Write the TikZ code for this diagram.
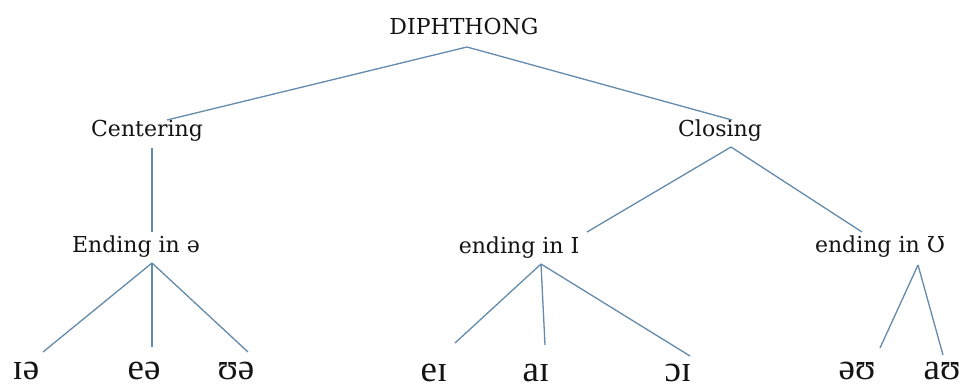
\documentclass[tikz,border=0pt]{standalone}
\usepackage{fontspec}
\setmainfont{DejaVu Serif}
\newfontfamily\ipafont{Liberation Serif}
\usetikzlibrary{calc}
\definecolor{branch}{RGB}{100,138,172}
\definecolor{ink}{RGB}{20,20,20}
\tikzset{
  label/.style={inner sep=0pt, anchor=base, text=ink, font=\fontsize{22}{26}\selectfont},
  sound/.style={inner sep=0pt, anchor=base, text=ink, text depth=0pt, font=\ipafont\fontsize{37}{40}\selectfont},
  branchline/.style={draw=branch, line width=1.3pt},
}
\begin{document}
\begin{tikzpicture}[x=1pt, y=-1pt]
\useasboundingbox[fill=white] (0,0) rectangle (964,385);

% category labels
\node[label] (dip)  at (464,35)  {DIPHTHONG};
\node[label] (cent) at (147,137) {Centering};
\node[label] (clos) at (720,137) {Closing};
\node[label] (endA) at (136,252) {Ending in ə};
\node[label] (endI) at (519,253) {ending in I};
\node[label] (endU) at (880,252) {ending in Ʊ};

% individual diphthongs
\node[sound] (ia) at (26,379)  {ɪə};
\node[sound] (ea) at (144,379) {eə};
\node[sound] (ua) at (236,379) {ʊə};
\node[sound] (ei) at (434,381) {eɪ};
\node[sound] (ai) at (536,381) {aɪ};
\node[sound] (oi) at (678,381) {ɔɪ};
\node[sound] (au1) at (857,379) {əʊ};
\node[sound] (au2) at (942,379) {aʊ};

% branch attachment points
\coordinate (dipB)  at ($(dip.base)+(3,12)$);
\coordinate (centT) at ($(cent.base)+(20,-17)$);
\coordinate (centB) at ($(cent.base)+(5,11)$);
\coordinate (closT) at ($(clos.base)+(12,-17)$);
\coordinate (closB) at ($(clos.base)+(11,10)$);
\coordinate (endAT) at ($(endA.base)+(16,-20)$);
\coordinate (endAB) at ($(endA.base)+(16,11)$);
\coordinate (endIT) at ($(endI.base)+(68,-21)$);
\coordinate (endIB) at ($(endI.base)+(22,11)$);
\coordinate (endUT) at ($(endU.base)+(-18,-20)$);
\coordinate (endUB) at ($(endU.base)+(38,13)$);
\coordinate (iaT)  at ($(ia.base)+(17,-27)$);
\coordinate (eaT)  at ($(ea.base)+(8,-32)$);
\coordinate (uaT)  at ($(ua.base)+(12,-27)$);
\coordinate (eiT)  at ($(ei.base)+(21,-38)$);
\coordinate (aiT)  at ($(ai.base)+(9,-36)$);
\coordinate (oiT)  at ($(oi.base)+(12,-25)$);
\coordinate (au1T) at ($(au1.base)+(23,-31)$);
\coordinate (au2T) at ($(au2.base)+(1,-24)$);

% branches
\draw[branchline] (dipB) -- (centT);
\draw[branchline] (dipB) -- (closT);
\draw[branchline] (centB) -- (endAT);
\draw[branchline] (closB) -- (endIT);
\draw[branchline] (closB) -- (endUT);
\draw[branchline] (endAB) -- (iaT);
\draw[branchline] (endAB) -- (eaT);
\draw[branchline] (endAB) -- (uaT);
\draw[branchline] (endIB) -- (eiT);
\draw[branchline] (endIB) -- (aiT);
\draw[branchline] (endIB) -- (oiT);
\draw[branchline] (endUB) -- (au1T);
\draw[branchline] (endUB) -- (au2T);
\end{tikzpicture}
\end{document}
